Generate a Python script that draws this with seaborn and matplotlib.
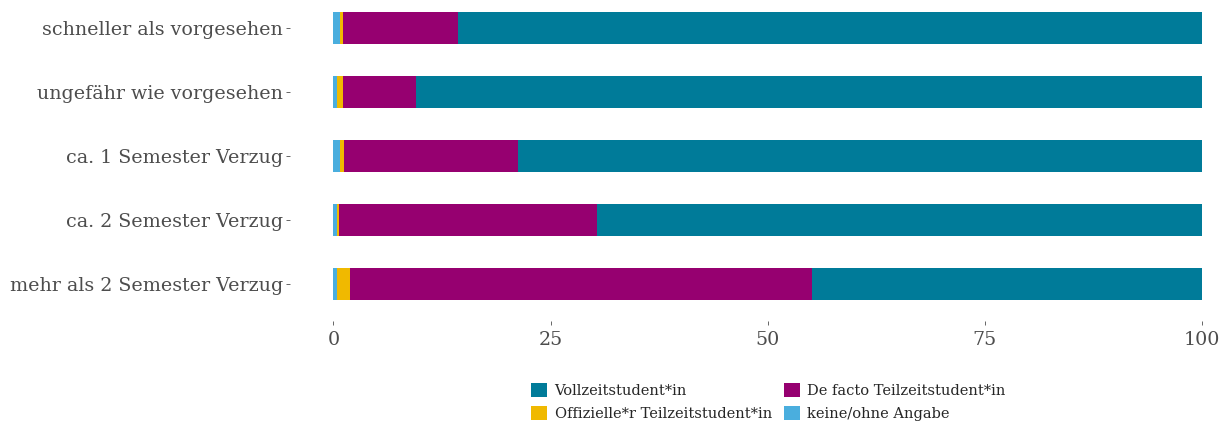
import numpy as np
import pandas as pd
import matplotlib
matplotlib.use("Agg")
import matplotlib.pyplot as plt
import seaborn as sns
from matplotlib.patches import Patch

# data (percent per category)
categories = ["schneller als vorgesehen", "ungefähr wie vorgesehen",
              "ca. 1 Semester Verzug", "ca. 2 Semester Verzug",
              "mehr als 2 Semester Verzug"]
keine = [0.75, 0.4, 0.75, 0.45, 0.45]
offiziell = [0.3, 0.65, 0.45, 0.2, 1.5]
defacto = [13.3, 8.5, 20.1, 29.7, 53.2]
vollzeit = [85.65, 90.45, 78.7, 69.65, 44.85]

series_names = ["Vollzeitstudent*in", "Offizielle*r Teilzeitstudent*in",
                "De facto Teilzeitstudent*in", "keine/ohne Angabe"]
colors = {"Vollzeitstudent*in": "#007b99",
          "De facto Teilzeitstudent*in": "#960070",
          "Offizielle*r Teilzeitstudent*in": "#f0b900",
          "keine/ohne Angabe": "#4aaede"}

df = pd.DataFrame({"cat": categories, "keine": keine, "offiziell": offiziell,
                   "defacto": defacto, "vollzeit": vollzeit})
# cumulative ends for stacking (left to right: keine, offiziell, defacto, vollzeit)
df["c1"] = df["keine"]
df["c2"] = df["c1"] + df["offiziell"]
df["c3"] = df["c2"] + df["defacto"]
df["c4"] = df["c3"] + df["vollzeit"]

sns.set_style("white")
plt.rcParams["font.family"] = ["DejaVu Serif"]

fig = plt.figure(figsize=(12.25, 4.23), dpi=100)
# axes runs off the right edge a bit (like the cropped original)
ax = fig.add_axes([290 / 1225, 0.241, 1 - 290 / 1225, 0.759])

for col, name in [("c4", "Vollzeitstudent*in"),
                  ("c3", "De facto Teilzeitstudent*in"),
                  ("c2", "Offizielle*r Teilzeitstudent*in"),
                  ("c1", "keine/ohne Angabe")]:
    sns.barplot(data=df, x=col, y="cat", order=categories, color=colors[name],
                width=0.49, saturation=1, ax=ax, orient="h", linewidth=0)

ax.set_xlim(-5, 102.65)
ax.set_ylim(4.58, -0.44)
ax.set_xticks([0, 25, 50, 75, 100])
ax.set_xlabel("")
ax.set_ylabel("")
for s in ax.spines.values():
    s.set_visible(False)
ax.tick_params(axis="both", colors="#4d4d4d", labelsize=13.7, length=3,
               width=0.6, pad=2, left=True, bottom=True)
ax.tick_params(axis="x", pad=4)

handles = [Patch(facecolor=colors[n], edgecolor="none") for n in series_names]
fig.legend(handles, series_names, loc="lower left", bbox_to_anchor=(0.423, -0.027),
           ncol=2, frameon=False, fontsize=10.5, handlelength=1.1,
           handleheight=1.1, handletextpad=0.5, columnspacing=0.8,
           labelspacing=0.6)

fig.savefig("out.png", dpi=100)
